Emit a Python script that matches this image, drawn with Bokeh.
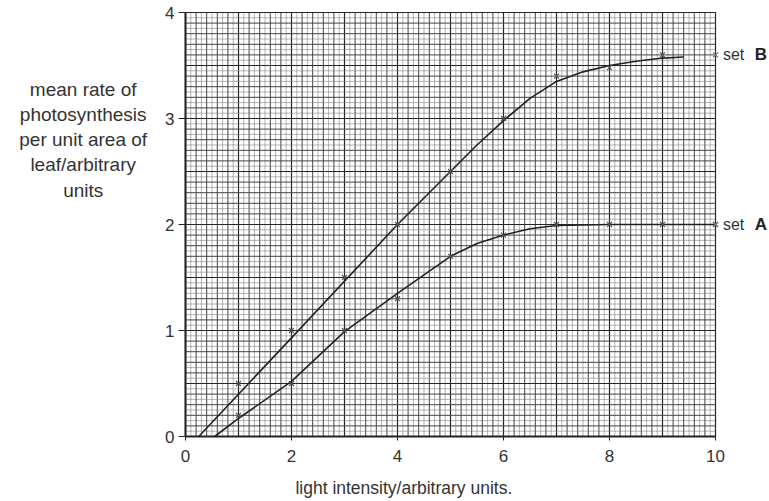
import numpy as np
from bokeh.plotting import figure
from bokeh.models import Label, FixedTicker
from bokeh.embed import file_html
from bokeh.resources import INLINE

# ---- data ----
x_ticks = [0, 2, 4, 6, 8, 10]
y_ticks = [0, 1, 2, 3, 4]

set_b_x = [1, 2, 3, 4, 5, 6, 7, 8, 9]
set_b_y = [0.5, 1.0, 1.5, 2.0, 2.5, 3.0, 3.4, 3.48, 3.6]
set_a_x = [1, 2, 3, 4, 5, 6, 7, 8, 9, 10]
set_a_y = [0.2, 0.5, 1.0, 1.3, 1.7, 1.9, 2.0, 2.0, 2.0, 2.0]

# hand-drawn best-fit curves
curve_b_x = [0.25, 2, 4, 5, 5.5, 6, 6.5, 7, 7.5, 8, 8.5, 9, 9.4]
curve_b_y = [0.0, 0.93, 2.0, 2.5, 2.75, 2.98, 3.19, 3.35, 3.44, 3.5, 3.54, 3.57, 3.58]
curve_a_x = [0.55, 1, 2, 3, 4, 5, 5.5, 6, 6.5, 7, 8, 10]
curve_a_y = [0.0, 0.17, 0.52, 0.99, 1.35, 1.7, 1.82, 1.9, 1.96, 1.99, 2.0, 2.0]

x_min, x_max = 0, 10
y_min, y_max = 0, 4

label_font = "Liberation Sans"
ink = "#333333"

W, H = 767, 499
px_x0, px_x1 = 185, 715     # pixel positions of x = 0 and x = 10
px_y0, px_y1 = 436, 12      # pixel positions of y = 0 and y = 4
sx = (px_x1 - px_x0) / (x_max - x_min)
sy = (px_y0 - px_y1) / (y_max - y_min)

p = figure(width=W, height=H,
           x_range=(x_min - px_x0 / sx, x_max + (W - px_x1) / sx),
           y_range=(y_min - (H - px_y0) / sy, y_max + px_y1 / sy),
           output_backend="svg", toolbar_location=None,
           min_border=0, min_border_left=0, min_border_right=0,
           min_border_top=0, min_border_bottom=0)
p.grid.visible = False
p.outline_line_color = None

# graph paper (line positions derived from the squares' size)
fine_x = np.round(np.arange(0.1, 10, 0.2), 3)
fine_y = np.round(np.arange(0.05, 4, 0.1), 3)
mid_x = np.round(np.arange(0, 10.0001, 0.2), 3)
mid_y = np.round(np.arange(0, 4.0001, 0.1), 3)
bold_x = np.arange(0, 11, 1.0)
bold_y = np.arange(0, 4.01, 0.5)

for xs, col, w, dash in [(fine_x, "#6a6a6a", 1, "1 1"), (mid_x, "#444444", 1, "solid"),
                         (bold_x, "#262626", 1.2, "solid")]:
    p.segment(x0=list(xs), y0=[y_min] * len(xs), x1=list(xs), y1=[y_max] * len(xs),
              line_color=col, line_width=w, line_dash=dash)
for ys, col, w, dash in [(fine_y, "#6a6a6a", 1, "1 1"), (mid_y, "#444444", 1, "solid"),
                         (bold_y, "#262626", 1.2, "solid")]:
    p.segment(x0=[x_min] * len(ys), y0=list(ys), x1=[x_max] * len(ys), y1=list(ys),
              line_color=col, line_width=w, line_dash=dash)

# axes at fixed data locations
p.xaxis.fixed_location = 0
p.yaxis.fixed_location = 0
p.xaxis.bounds = (x_min, x_max)
p.yaxis.bounds = (y_min, y_max)
p.xaxis.ticker = FixedTicker(ticks=x_ticks)
p.yaxis.ticker = FixedTicker(ticks=y_ticks)
for ax in (p.xaxis, p.yaxis):
    ax.axis_line_width = 2
    ax.axis_line_color = "#222222"
    ax.major_tick_in = 0
    ax.minor_tick_out = 0
    ax.minor_tick_in = 0
    ax.major_tick_line_color = "#222222"
    ax.major_label_text_font = label_font
    ax.major_label_text_font_size = "17px"
    ax.major_label_text_color = ink
p.xaxis.major_tick_out = 4
p.yaxis.major_tick_out = 7
p.xaxis.major_label_standoff = 9
p.yaxis.major_label_standoff = 4

# curves and points
p.line(curve_b_x, curve_b_y, line_color="#222222", line_width=1.6)
p.line(curve_a_x, curve_a_y, line_color="#222222", line_width=1.6)
p.scatter(set_b_x, set_b_y, marker="x", size=7, line_color="#555555", line_width=1.2)
p.scatter(set_a_x, set_a_y, marker="x", size=7, line_color="#555555", line_width=1.2)

# set labels
for yv, letter in [(set_b_y[-1], "B"), (set_a_y[-1], "A")]:
    p.scatter([x_max], [yv], marker="x", size=7, line_color="#777777", line_width=1.2)
    p.add_layout(Label(x=10.14, y=yv, text="set", text_align="left", text_baseline="middle",
                       text_font=label_font, text_font_size="16px", text_color=ink))
    p.add_layout(Label(x=10.74, y=yv, text=letter, text_align="left", text_baseline="middle",
                       text_font=label_font, text_font_size="17px", text_font_style="bold",
                       text_color="#222222"))

# axis titles
p.add_layout(Label(x=-1.93, y=2.80,
                   text="mean rate of\nphotosynthesis\nper unit area of\nleaf/arbitrary\nunits",
                   text_align="center", text_baseline="middle",
                   text_font=label_font, text_font_size="19px", text_color=ink,
                   text_line_height=1.2))
p.add_layout(Label(x=4.12, y=-0.49, text="light intensity/arbitrary units.",
                   text_align="center", text_baseline="middle",
                   text_font=label_font, text_font_size="17.5px", text_color=ink))

open("out.html", "w").write(file_html(p, INLINE))
